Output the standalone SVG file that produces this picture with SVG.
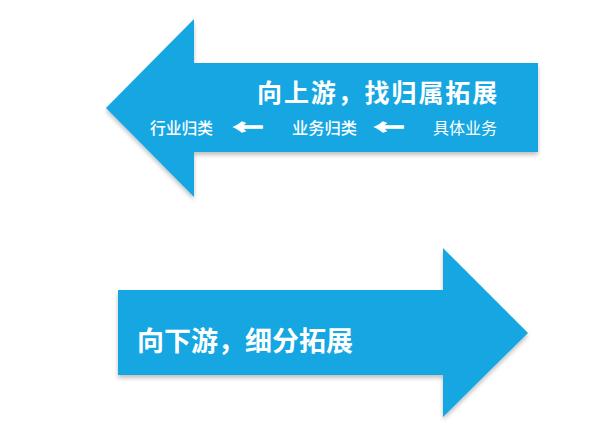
<svg xmlns="http://www.w3.org/2000/svg" width="600" height="426" viewBox="0 0 600 426">
<defs>
<filter id="sh" x="-10%" y="-10%" width="120%" height="130%">
<feGaussianBlur in="SourceAlpha" stdDeviation="2"/>
<feOffset dx="0" dy="3"/>
<feComponentTransfer><feFuncA type="linear" slope="0.25"/></feComponentTransfer>
<feMerge><feMergeNode/><feMergeNode in="SourceGraphic"/></feMerge>
</filter>
<style>
.arrow{fill:#17a7e2;filter:url(#sh)}
.t{fill:#ffffff;font-family:"Noto Sans CJK SC","Noto Sans",sans-serif}
.big{font-size:25px;font-weight:700}
.small{font-size:16px;font-weight:500}
.ar{font-size:20px;font-weight:700;stroke:#ffffff;stroke-width:1.3}
</style>
</defs>
<rect width="600" height="426" fill="#ffffff"/>
<g id="upstream-arrow">
<polygon class="arrow" points="106,108 194,19 194,63 538,63 538,152 194,152 194,197"/>
<text class="t big" x="257" y="102" letter-spacing="1.9">向上游，找归属拓展</text>
<text class="t small" x="150" y="134" textLength="63" lengthAdjust="spacingAndGlyphs">行业归类</text>
<text class="t ar" x="233" y="135" textLength="30" lengthAdjust="spacingAndGlyphs">←</text>
<text class="t small" x="292" y="134" textLength="65" lengthAdjust="spacingAndGlyphs">业务归类</text>
<text class="t ar" x="374" y="135" textLength="30" lengthAdjust="spacingAndGlyphs">←</text>
<text class="t small" x="433" y="134" style="font-weight:400" textLength="64" lengthAdjust="spacingAndGlyphs">具体业务</text>
</g>
<g id="downstream-arrow">
<polygon class="arrow" points="118,290 443,290 443,248 528,333 443,417 443,375 118,375"/>
<text class="t big" x="137" y="351" style="font-size:27px">向下游，细分拓展</text>
</g>
<g id="connectors"/>
</svg>
